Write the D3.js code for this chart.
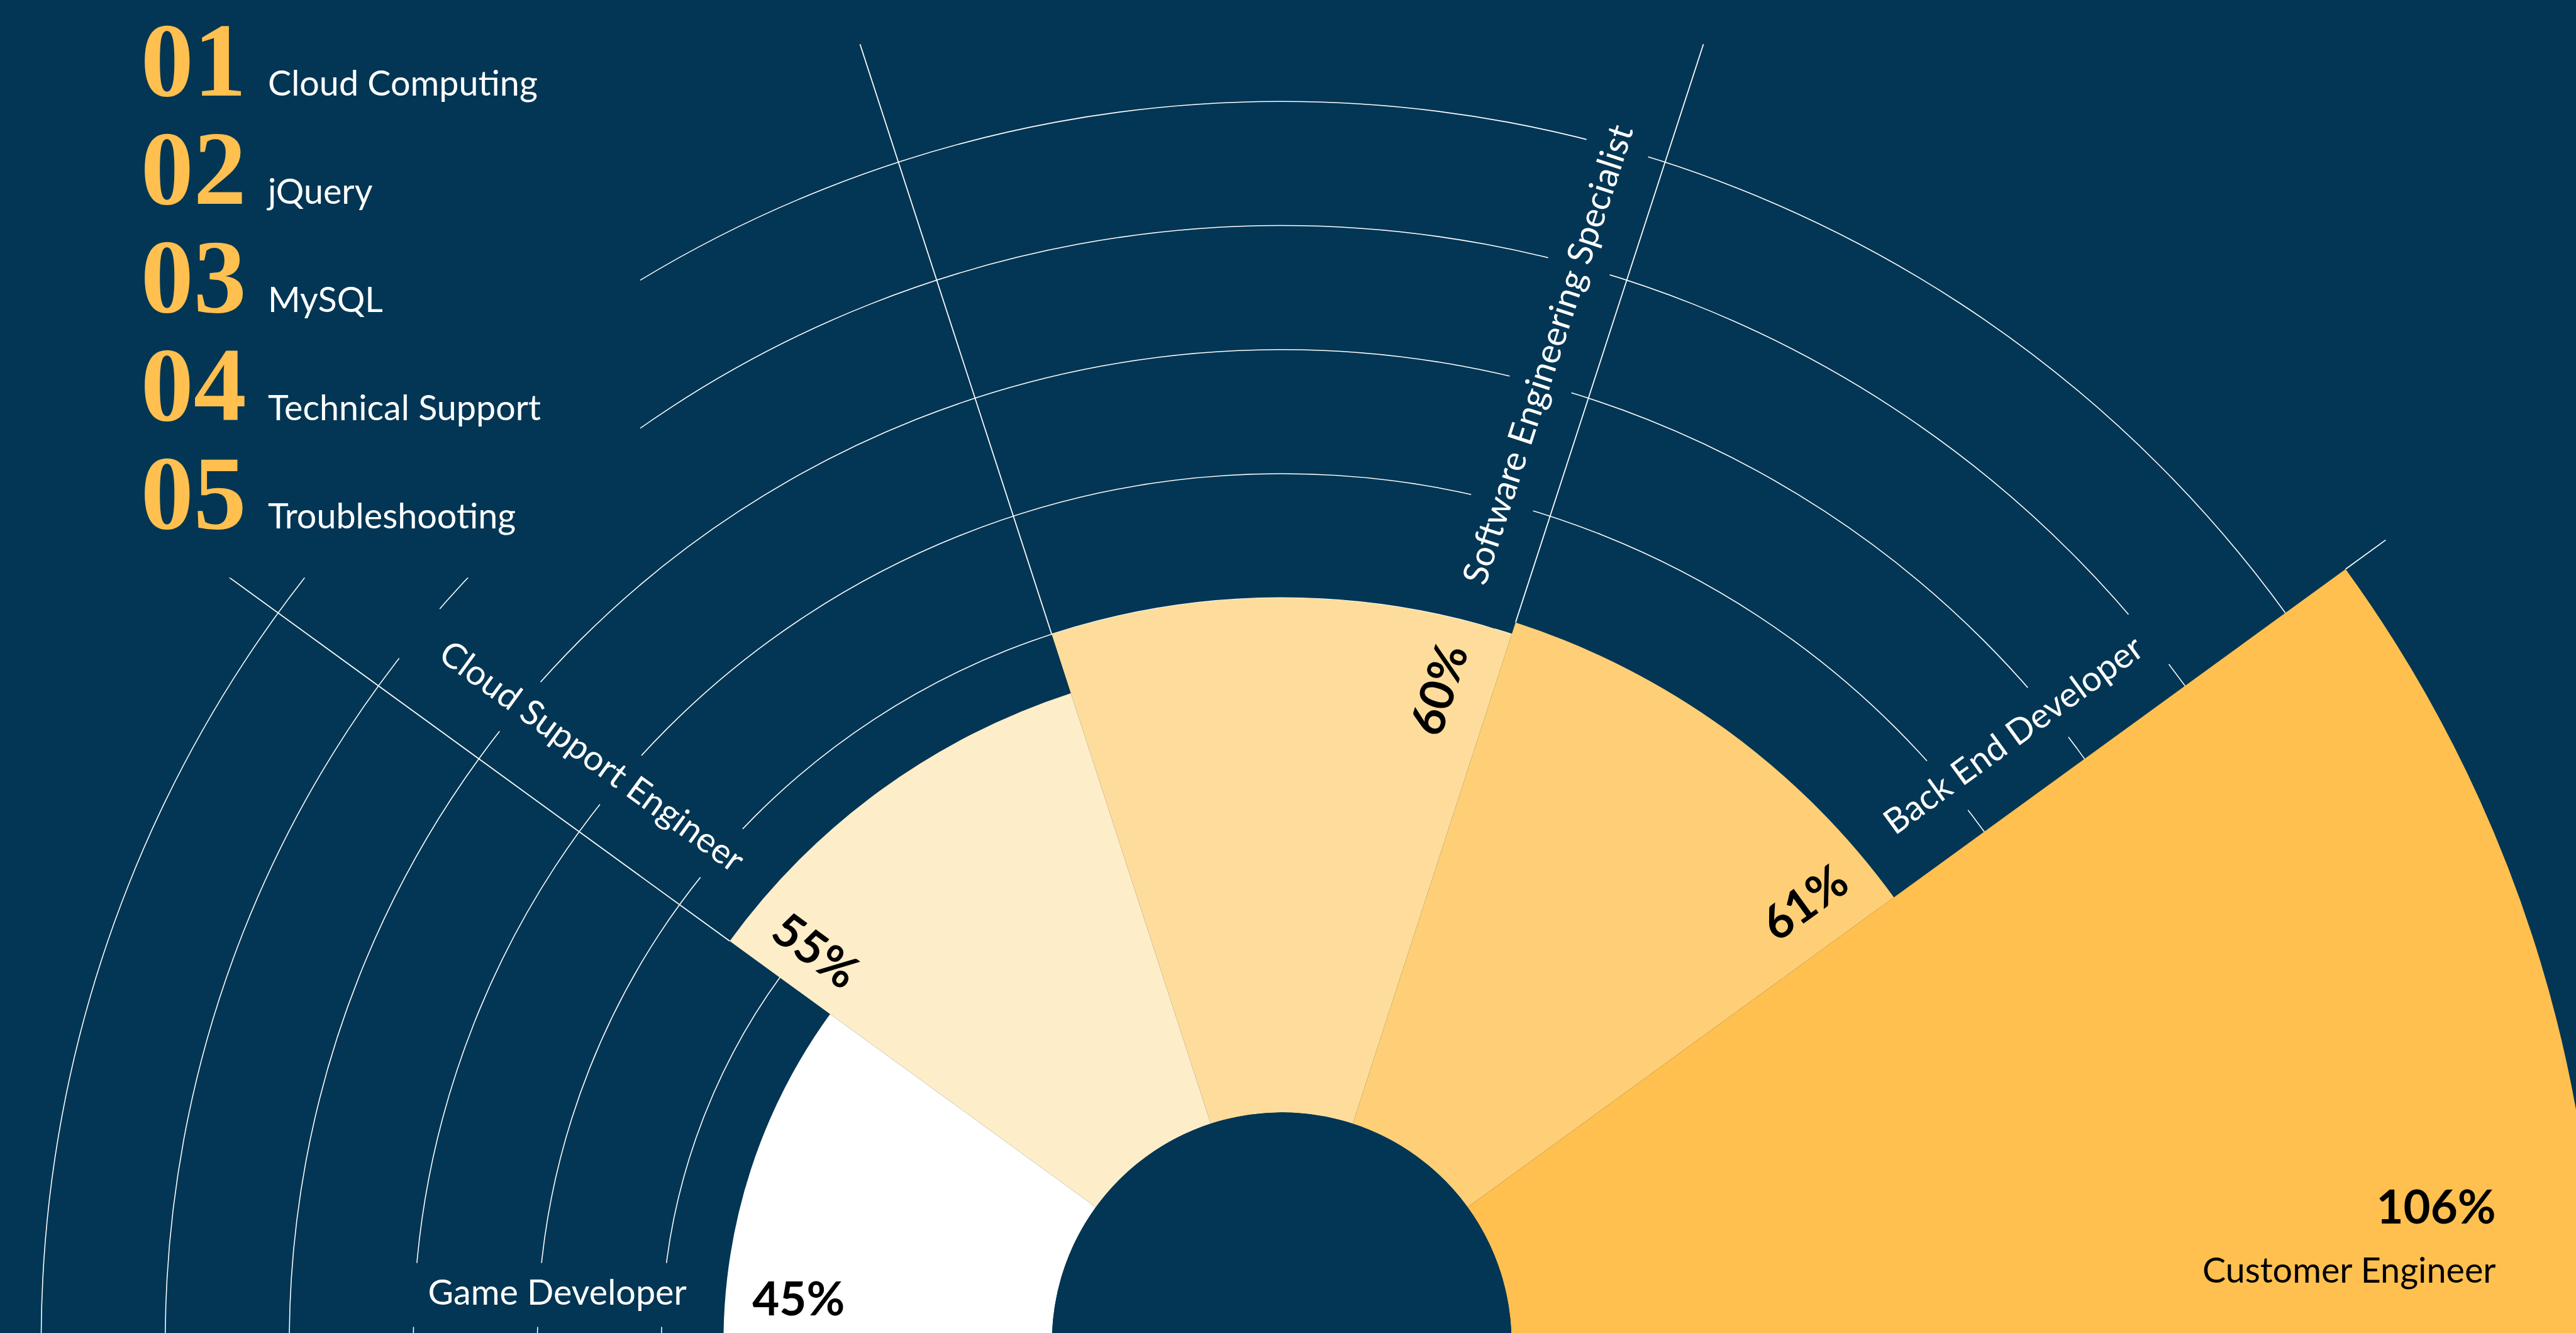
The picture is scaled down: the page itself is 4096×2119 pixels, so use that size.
<!DOCTYPE html>
<html>
<head>
<meta charset="utf-8">
<script src="https://cdn.jsdelivr.net/npm/d3@7"></script>
<style>
  html, body { margin: 0; padding: 0; background: #023654; overflow: hidden; }
  svg { display: block; }
</style>
</head>
<body>
<script>
// data
const categories = ["Game Developer", "Cloud Support Engineer", "Software Engineering Specialist", "Back End Developer", "Customer Engineer"];
const values = [45, 55, 60, 61, 106];
const gridTicks = [50, 60, 70, 80, 90, 100];
const skillRanks = ["01", "02", "03", "04", "05"];
const skills = ["Cloud Computing", "jQuery", "MySQL", "Technical Support", "Troubleshooting"];
const barColors = ["#ffffff", "#feedc9", "#fedd9c", "#fecf76", "#ffc04f"];

// layout (drawn in the 4190x2168 reference space, then scaled)
const W = 4096, H = 2119;
const k = 0.977;
const bg = "#023654";
const cx = 2086, cy = 2184;
const hole = 374;
const labelGap = [61, 92, 65, 80];   // baseline distance of the name from its spoke
const valueGap = [44, 43, 58, 52];   // baseline distance of the % from its spoke

const data = categories.map((c, i) => ({cat: c, value: values[i], i: i}));

const svg = d3.select("body").append("svg").attr("width", W).attr("height", H);
svg.append("rect").attr("width", W).attr("height", H).attr("fill", bg);
const g = svg.append("g").attr("transform", `scale(${k})`);

const r = d3.scaleLinear().domain([0, 100]).range([0, 2019]);
const angle = d3.scaleBand().domain(categories).range([-Math.PI / 2, Math.PI / 2]);
const color = d3.scaleOrdinal(categories, barColors);

const chart = g.append("g").attr("transform", `translate(${cx},${cy})`);

// rings
chart.append("g").selectAll("circle")
  .data(gridTicks)
  .join("circle")
  .attr("r", d => r(d))
  .attr("fill", "none")
  .attr("stroke", "#fff")
  .attr("stroke-width", 1.6);

// spokes between the sectors
const spokes = d3.range(1, data.length).map(i => ({
  a: angle(categories[i]),
  from: Math.max(r(values[i - 1]), r(values[i]))
}));
chart.append("g").selectAll("line")
  .data(spokes)
  .join("line")
  .attr("x1", d => d.from * Math.sin(d.a))
  .attr("y1", d => -d.from * Math.cos(d.a))
  .attr("x2", d => r(110) * Math.sin(d.a))
  .attr("y2", d => -r(110) * Math.cos(d.a))
  .attr("stroke", "#fff")
  .attr("stroke-width", 1.8);

// knock-outs behind the labels, filled later
const maskG = chart.append("g");

// bars
const arc = d3.arc()
  .innerRadius(hole)
  .outerRadius(d => r(d.value))
  .startAngle(d => angle(d.cat))
  .endAngle(d => angle(d.cat) + angle.bandwidth());

chart.append("g").selectAll("path")
  .data(data)
  .join("path")
  .attr("d", arc)
  .attr("fill", d => color(d.cat));

chart.append("circle").attr("r", hole).attr("fill", bg);

// labels along the spokes
const last = data.length - 1;
const labG = chart.append("g");
data.slice(0, last).forEach(d => {
  const mid = angle(d.cat) + angle.bandwidth() / 2;
  const left = mid < 0;
  const edge = left ? angle(d.cat) : angle(d.cat) + angle.bandwidth();
  const deg = edge * 180 / Math.PI;
  const rot = left ? 90 + deg : deg - 90;
  const s = left ? -1 : 1;
  const rv = r(d.value);

  const lg = labG.append("g").attr("transform", `rotate(${rot})`);
  const name = lg.append("text")
    .attr("x", s * (rv + 60))
    .attr("y", -labelGap[d.i])
    .attr("text-anchor", left ? "end" : "start")
    .attr("fill", "#fff")
    .attr("font-family", "Lato, sans-serif")
    .attr("font-size", 57)
    .text(d.cat);
  lg.append("text")
    .attr("x", s * (rv - 47))
    .attr("y", -valueGap[d.i])
    .attr("text-anchor", left ? "start" : "end")
    .attr("fill", "#000")
    .attr("font-family", "Lato, sans-serif")
    .attr("font-weight", 700)
    .attr("font-size", 76)
    .text(d.value + "%");

  const len = name.node().getComputedTextLength();
  const x0 = rv, x1 = rv + 60 + len + 80;
  maskG.append("g").attr("transform", `rotate(${rot})`)
    .append("rect")
    .attr("x", left ? -x1 : x0)
    .attr("width", x1 - x0)
    .attr("y", -(labelGap[d.i] + 68))
    .attr("height", 104)
    .attr("fill", bg);
});

// the last, cropped sector is labelled flat in the corner
const lastX = 4062 - cx;
labG.append("text")
  .attr("x", lastX).attr("y", 1991 - cy)
  .attr("text-anchor", "end")
  .attr("fill", "#000")
  .attr("font-family", "Lato, sans-serif")
  .attr("font-weight", 700)
  .attr("font-size", 76)
  .text(values[last] + "%");
labG.append("text")
  .attr("x", lastX).attr("y", 2087 - cy)
  .attr("text-anchor", "end")
  .attr("fill", "#000")
  .attr("font-family", "Lato, sans-serif")
  .attr("font-size", 57)
  .text(categories[last]);

// the legend sits on a plain patch that hides the rings
maskG.append("rect")
  .attr("x", -cx).attr("y", -cy)
  .attr("width", 1042).attr("height", 940)
  .attr("fill", bg);

const legend = g.append("g");
skillRanks.forEach((n, i) => {
  const y = 156 + i * 176;
  const num = legend.append("text")
    .attr("x", 229).attr("y", y)
    .attr("fill", "#ffc04f")
    .attr("font-family", "'Liberation Serif', serif")
    .attr("font-weight", 700)
    .attr("font-size", 172)
    .text(n);
  const b = num.node().getBBox();
  legend.append("text")
    .attr("x", b.x + b.width + 35).attr("y", y)
    .attr("fill", "#fff")
    .attr("font-family", "Lato, sans-serif")
    .attr("font-size", 57)
    .text(skills[i]);
});
</script>
</body>
</html>
